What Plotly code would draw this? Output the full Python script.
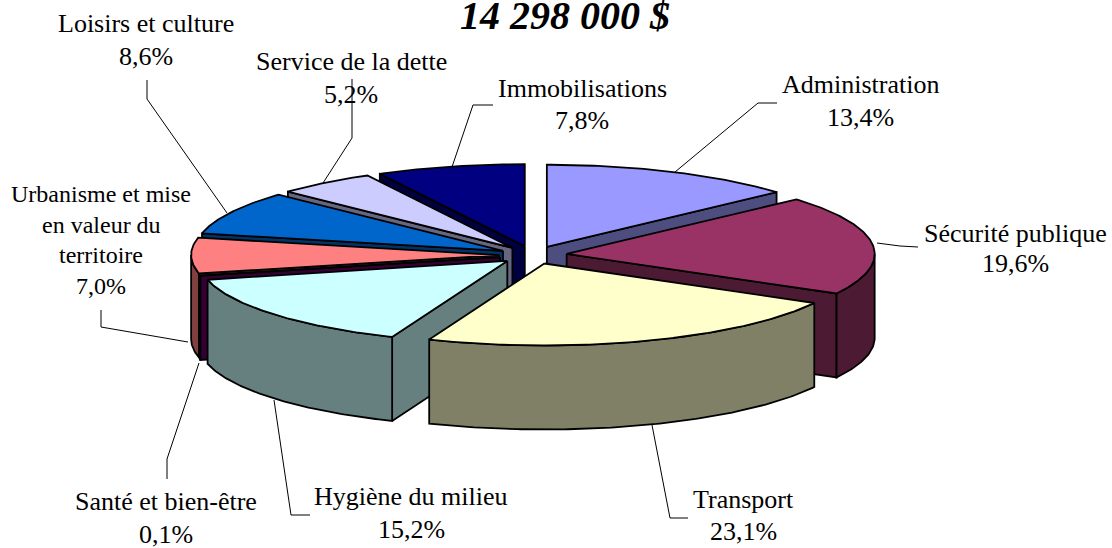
import numpy as np
import plotly.graph_objects as go

# ---------------- data ----------------
categories = ["Administration", "Sécurité publique", "Transport", "Hygiène du milieu",
              "Santé et bien-être", "Urbanisme et mise en valeur du territoire",
              "Loisirs et culture", "Service de la dette", "Immobilisations"]
values = [13.4, 19.6, 23.1, 15.2, 0.1, 7.0, 8.6, 5.2, 7.8]
label_lines = [["Administration"], ["Sécurité publique"], ["Transport"], ["Hygiène du milieu"],
               ["Santé et bien-être"], ["Urbanisme et mise", "en valeur du", "territoire"],
               ["Loisirs et culture"], ["Service de la dette"], ["Immobilisations"]]
total_budget = 14298000

# ---------------- styles ----------------
top_colors = ["#9999FF", "#993366", "#FFFFCC", "#CCFFFF", "#660066",
              "#FF8080", "#0066CC", "#CCCCFF", "#000080"]
side_colors = ["#4D4D80", "#4D1A33", "#808066", "#668080", "#330033",
               "#804040", "#003366", "#666680", "#000040"]

W, H = 1112, 548
CX, CY = 533, 255       # pie centre (px)
RX, RY = 308, 82        # ellipse radii
DEPTH = 84              # thickness
EXPLODE = 0.11          # explosion (fraction of radius)
FONT = "Liberation Serif"

# label layout: (centre x, first baseline, line gap, font size) and leader-line path
label_layout = [
    (860, 93, 33, 26), (1015, 242, 30, 26), (743, 508, 32, 26), (411, 505, 33, 26),
    (166, 510, 33, 26), (101, 202, 30.7, 24), (146, 32, 33, 26), (351, 70, 33, 26),
    (582, 97, 32, 26)]
leaders = [
    [(777, 103), (758, 103), (675, 172)],
    [(918, 247), (900, 246), (877, 243)],
    [(688, 518), (670, 518), (652, 425)],
    [(310, 515), (291, 515), (274, 400)],
    [(167, 479), (167, 459), (199, 363)],
    [(101, 310), (101, 327), (188, 342)],
    [(147, 80), (147, 99), (227, 213)],
    [(352, 79), (352, 138), (323, 183)],
    [(493, 105), (473, 105), (452, 167)]]

total = sum(values)
edges = np.concatenate([[0], np.cumsum(values)]) / total * 360.0


def pts(thetas, ox, oy, dz=0.0):
    t = np.radians(thetas)
    return ox + RX * np.sin(t), oy - RY * np.cos(t) + dz


fig = go.Figure()


def poly(xs, ys, fill):
    fig.add_trace(go.Scatter(x=list(xs), y=list(ys), mode="lines", fill="toself",
                             fillcolor=fill, line=dict(color="black", width=1.8),
                             hoverinfo="skip", showlegend=False))


mids = [(edges[i] + edges[i + 1]) / 2 for i in range(len(values))]
order = sorted(range(len(values)), key=lambda i: -np.cos(np.radians(mids[i])))

for i in order:
    a0, a1 = edges[i], edges[i + 1]
    m = np.radians(mids[i])
    ox = CX + EXPLODE * RX * np.sin(m)
    oy = CY - EXPLODE * RY * np.cos(m)
    # radial faces
    for a, vis in ((a0, np.sin(np.radians(a0)) < -1e-9), (a1, np.sin(np.radians(a1)) > 1e-9)):
        if vis:
            px, py = pts(np.array([a]), ox, oy)
            poly([ox, px[0], px[0], ox, ox], [oy, py[0], py[0] + DEPTH, oy + DEPTH, oy], side_colors[i])
    # outer curved side
    v0, v1 = max(a0, 90.0), min(a1, 270.0)
    if v1 > v0:
        th = np.linspace(v0, v1, max(4, int((v1 - v0) * 1.5)))
        tx, ty = pts(th, ox, oy)
        bx, by = pts(th[::-1], ox, oy, DEPTH)
        poly(np.concatenate([tx, bx, tx[:1]]), np.concatenate([ty, by, ty[:1]]), side_colors[i])
    # top face
    th = np.linspace(a0, a1, max(3, int((a1 - a0) * 1.5)))
    tx, ty = pts(th, ox, oy)
    poly(np.concatenate([[ox], tx, [ox]]), np.concatenate([[oy], ty, [oy]]), top_colors[i])

annotations = []
shapes = []
ASC_SHIFT = 0.3375  # baseline -> box middle (em)
for i, name in enumerate(categories):
    cxl, b0, gap, fs = label_layout[i]
    pct = f"{values[i]:.1f}".replace(".", ",") + "%"
    lines = label_lines[i] + [pct]
    for k, txt in enumerate(lines):
        annotations.append(dict(x=cxl, y=b0 + k * gap - ASC_SHIFT * fs, text=txt,
                                showarrow=False, xref="x", yref="y",
                                xanchor="center", yanchor="middle",
                                font=dict(family=FONT, size=fs, color="black")))
    path = "M " + " L ".join(f"{x},{y}" for x, y in leaders[i])
    shapes.append(dict(type="path", path=path, xref="x", yref="y",
                       line=dict(color="black", width=1), layer="above"))

title_txt = f"{total_budget:,}".replace(",", " ") + " $"
TFS = 40
annotations.append(dict(x=565, y=29 - ASC_SHIFT * TFS, text=f"<b><i>{title_txt}</i></b>",
                        showarrow=False, xref="x", yref="y", xanchor="center", yanchor="middle",
                        font=dict(family=FONT, size=TFS, color="black")))

fig.update_layout(
    width=W, height=H, margin=dict(l=0, r=0, t=0, b=0),
    paper_bgcolor="white", plot_bgcolor="white",
    xaxis=dict(range=[0, W], visible=False, fixedrange=True),
    yaxis=dict(range=[H, 0], visible=False, fixedrange=True),
    annotations=annotations, shapes=shapes, showlegend=False)

fig.write_html("out.html", config={"displayModeBar": False},
               post_script="document.body.style.margin='0';document.body.style.overflow='hidden';")
